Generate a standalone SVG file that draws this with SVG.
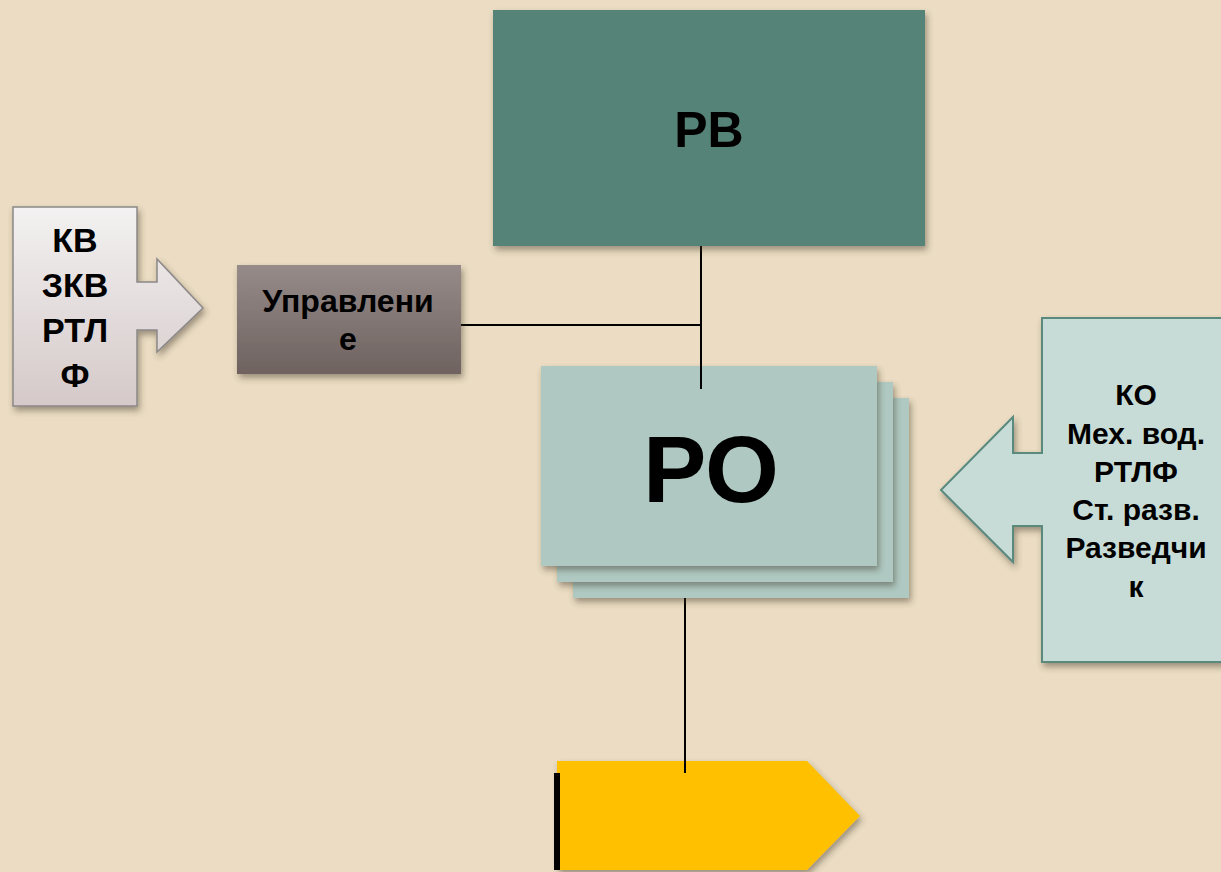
<svg xmlns="http://www.w3.org/2000/svg" width="1221" height="872" viewBox="0 0 1221 872">
<defs>
<filter id="sh" x="-10%" y="-10%" width="125%" height="130%">
<feDropShadow dx="2" dy="4" stdDeviation="3" flood-color="#3a3020" flood-opacity="0.45"/>
</filter>
<linearGradient id="gUpr" x1="0" y1="0" x2="0" y2="1">
<stop offset="0" stop-color="#978b89"/>
<stop offset="1" stop-color="#6e6260"/>
</linearGradient>
<linearGradient id="gLeft" x1="0" y1="0" x2="0" y2="1">
<stop offset="0" stop-color="#f3f1f1"/>
<stop offset="1" stop-color="#d5c9c9"/>
</linearGradient>
<style>
text{font-family:"Liberation Sans",Arial,sans-serif;font-weight:bold;fill:#000;text-anchor:middle}
.conn{stroke:#000;stroke-width:2;fill:none}
.ro{fill:#afc9c2;filter:url(#sh)}
</style>
</defs>
<rect width="1221" height="872" fill="#ebdcc3"/>

<g id="connectors">
<line class="conn" x1="701" y1="246" x2="701" y2="389"/>
<line class="conn" x1="461" y1="325" x2="701" y2="325"/>
<line class="conn" x1="685" y1="598" x2="685" y2="773"/>
</g>

<g id="rv">
<rect x="493" y="10" width="432" height="236" fill="#568377" filter="url(#sh)"/>
<text x="709" y="147" font-size="50">РВ</text>
</g>

<g id="upravlenie">
<rect x="237" y="265" width="224" height="109" fill="url(#gUpr)" filter="url(#sh)"/>
<text x="348" y="312" font-size="32">Управлени</text>
<text x="348" y="350" font-size="32">е</text>
</g>

<g id="left-callout">
<path d="M13,207 H137 V282 H157 V259 L203,308 L157,352 V330 H137 V406 H13 Z" fill="url(#gLeft)" stroke="#8c8888" stroke-width="1.5" filter="url(#sh)"/>
<text x="75" y="252" font-size="34">КВ</text>
<text x="75" y="297" font-size="34">ЗКВ</text>
<text x="75" y="342" font-size="34">РТЛ</text>
<text x="75" y="387" font-size="34">Ф</text>
</g>

<g id="ro">
<rect class="ro" x="573" y="398" width="336" height="200"/>
<rect class="ro" x="557" y="382" width="336" height="200"/>
<rect class="ro" x="541" y="366" width="336" height="200"/>
<text x="711" y="502" font-size="95">РО</text>
</g>
<line class="conn" x1="701" y1="366" x2="701" y2="389"/>

<g id="right-callout">
<path d="M1042,318 H1230 V662 H1042 V526 H1013 V562 L941,490 L1013,417 V453 H1042 Z" fill="#c8dcd7" stroke="#5a8a7e" stroke-width="2" filter="url(#sh)"/>
<text x="1136" y="405" font-size="30">КО</text>
<text x="1136" y="444" font-size="30">Мех. вод.</text>
<text x="1136" y="482" font-size="30">РТЛФ</text>
<text x="1136" y="520" font-size="30">Ст. разв.</text>
<text x="1136" y="558" font-size="30">Разведчи</text>
<text x="1136" y="597" font-size="30">к</text>
</g>

<g id="yellow">
<path d="M557,761 H807 L860,816 L807,870 H557 Z" fill="#ffc000" filter="url(#sh)"/>
<line x1="557" y1="773" x2="557" y2="870" stroke="#000" stroke-width="6"/>
</g>
<line class="conn" x1="685" y1="761" x2="685" y2="773"/>
</svg>
